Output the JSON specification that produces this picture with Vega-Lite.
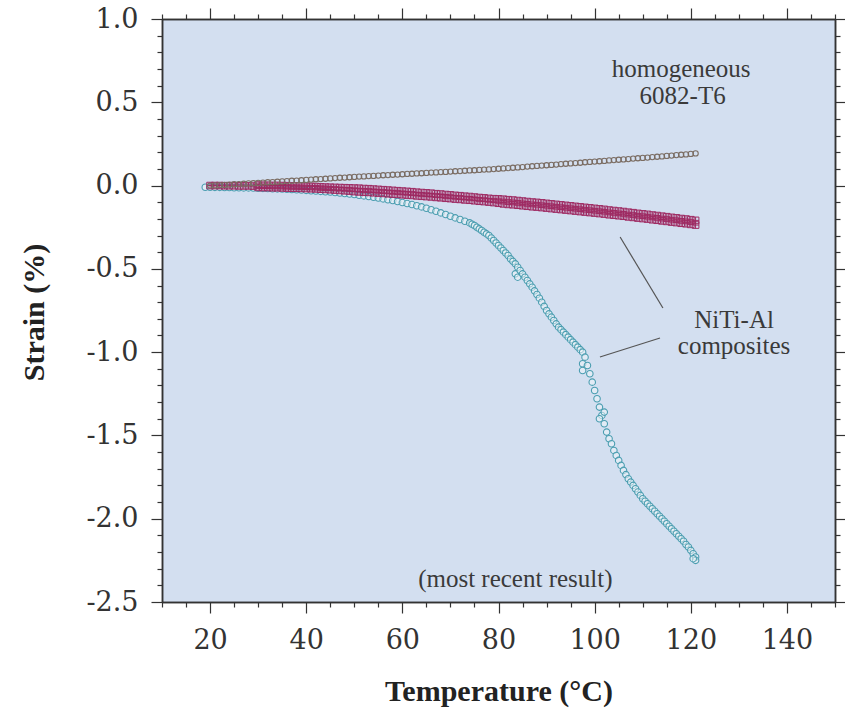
{
"$schema":"https://vega.github.io/schema/vega-lite/v6.json",
"width":673,"height":583,
"autosize":{"type":"none"},
"padding":{"left":162,"top":19,"right":10,"bottom":106},
"background":"#ffffff",
"view":{"fill":"#d3dff0","stroke":null},
"config":{"axis":{"grid":false,"domainColor":"#333333","domainWidth":1.5,"tickColor":"#333333","tickWidth":1.2,"labelFont":"DejaVu Serif","labelFontSize":27,"labelColor":"#333333","titleFont":"Liberation Serif","titleFontSize":30,"titleFontWeight":"bold","titleColor":"#222222","labelFlush":false}},
"datasets":{
"frame":[{"t":10,"v":-2.5},{"t":150,"v":1.0}],
"notes":[{"x":118,"y":0.70,"label":"homogeneous"},{"x":118.3,"y":0.535,"label":"6082-T6"},{"x":129,"y":-0.807,"label":"NiTi-Al"},{"x":129,"y":-0.963,"label":"composites"},{"x":83.5,"y":-2.36,"label":"(most recent result)"}],
"leaders":[{"x":105.3,"y":-0.309,"x2":114.2,"y2":-0.735},{"x":101.1,"y":-1.029,"x2":113.6,"y2":-0.915}],
"pts":[
{"s":"g","t":20,"v":0.000},{"s":"g","t":21,"v":0.001},{"s":"g","t":22,"v":0.003},{"s":"g","t":23,"v":0.004},{"s":"g","t":24,"v":0.006},{"s":"g","t":25,"v":0.008},{"s":"g","t":26,"v":0.009},{"s":"g","t":27,"v":0.011},{"s":"g","t":28,"v":0.013},{"s":"g","t":29,"v":0.014},
{"s":"g","t":30,"v":0.016},{"s":"g","t":31,"v":0.018},{"s":"g","t":32,"v":0.020},{"s":"g","t":33,"v":0.021},{"s":"g","t":34,"v":0.023},{"s":"g","t":35,"v":0.025},{"s":"g","t":36,"v":0.027},{"s":"g","t":37,"v":0.029},{"s":"g","t":38,"v":0.030},{"s":"g","t":39,"v":0.032},
{"s":"g","t":40,"v":0.034},{"s":"g","t":41,"v":0.036},{"s":"g","t":42,"v":0.038},{"s":"g","t":43,"v":0.039},{"s":"g","t":44,"v":0.041},{"s":"g","t":45,"v":0.043},{"s":"g","t":46,"v":0.045},{"s":"g","t":47,"v":0.047},{"s":"g","t":48,"v":0.048},{"s":"g","t":49,"v":0.050},
{"s":"g","t":50,"v":0.052},{"s":"g","t":51,"v":0.054},{"s":"g","t":52,"v":0.055},{"s":"g","t":53,"v":0.057},{"s":"g","t":54,"v":0.058},{"s":"g","t":55,"v":0.060},{"s":"g","t":56,"v":0.062},{"s":"g","t":57,"v":0.063},{"s":"g","t":58,"v":0.065},{"s":"g","t":59,"v":0.066},
{"s":"g","t":60,"v":0.068},{"s":"g","t":61,"v":0.070},{"s":"g","t":62,"v":0.071},{"s":"g","t":63,"v":0.073},{"s":"g","t":64,"v":0.074},{"s":"g","t":65,"v":0.076},{"s":"g","t":66,"v":0.078},{"s":"g","t":67,"v":0.079},{"s":"g","t":68,"v":0.081},{"s":"g","t":69,"v":0.082},
{"s":"g","t":70,"v":0.084},{"s":"g","t":71,"v":0.086},{"s":"g","t":72,"v":0.087},{"s":"g","t":73,"v":0.089},{"s":"g","t":74,"v":0.091},{"s":"g","t":75,"v":0.092},{"s":"g","t":76,"v":0.094},{"s":"g","t":77,"v":0.096},{"s":"g","t":78,"v":0.097},{"s":"g","t":79,"v":0.099},
{"s":"g","t":80,"v":0.101},{"s":"g","t":81,"v":0.103},{"s":"g","t":82,"v":0.105},{"s":"g","t":83,"v":0.107},{"s":"g","t":84,"v":0.109},{"s":"g","t":85,"v":0.111},{"s":"g","t":86,"v":0.114},{"s":"g","t":87,"v":0.116},{"s":"g","t":88,"v":0.118},{"s":"g","t":89,"v":0.120},
{"s":"g","t":90,"v":0.122},{"s":"g","t":91,"v":0.124},{"s":"g","t":92,"v":0.126},{"s":"g","t":93,"v":0.129},{"s":"g","t":94,"v":0.131},{"s":"g","t":95,"v":0.133},{"s":"g","t":96,"v":0.135},{"s":"g","t":97,"v":0.137},{"s":"g","t":98,"v":0.140},{"s":"g","t":99,"v":0.142},
{"s":"g","t":100,"v":0.144},{"s":"g","t":101,"v":0.146},{"s":"g","t":102,"v":0.148},{"s":"g","t":103,"v":0.151},{"s":"g","t":104,"v":0.153},{"s":"g","t":105,"v":0.155},{"s":"g","t":106,"v":0.157},{"s":"g","t":107,"v":0.159},{"s":"g","t":108,"v":0.162},{"s":"g","t":109,"v":0.164},
{"s":"g","t":110,"v":0.166},{"s":"g","t":111,"v":0.168},{"s":"g","t":112,"v":0.171},{"s":"g","t":113,"v":0.173},{"s":"g","t":114,"v":0.175},{"s":"g","t":115,"v":0.178},{"s":"g","t":116,"v":0.180},{"s":"g","t":117,"v":0.183},{"s":"g","t":118,"v":0.185},{"s":"g","t":119,"v":0.187},
{"s":"g","t":120,"v":0.190},{"s":"g","t":121,"v":0.193},
{"s":"m","t":20,"v":0.000},{"s":"m","t":21,"v":0.000},{"s":"m","t":22,"v":0.000},{"s":"m","t":23,"v":-0.001},{"s":"m","t":24,"v":-0.001},{"s":"m","t":25,"v":-0.001},{"s":"m","t":26,"v":-0.002},{"s":"m","t":27,"v":-0.002},{"s":"m","t":28,"v":-0.002},{"s":"m","t":29,"v":-0.003},
{"s":"m","t":30,"v":0.003},{"s":"m","t":31,"v":0.002},{"s":"m","t":32,"v":0.002},{"s":"m","t":33,"v":0.001},{"s":"m","t":34,"v":0.001},{"s":"m","t":35,"v":0.000},{"s":"m","t":36,"v":-0.001},{"s":"m","t":37,"v":-0.002},{"s":"m","t":38,"v":-0.002},{"s":"m","t":39,"v":-0.003},
{"s":"m","t":40,"v":-0.004},{"s":"m","t":41,"v":-0.005},{"s":"m","t":42,"v":-0.006},{"s":"m","t":43,"v":-0.008},{"s":"m","t":44,"v":-0.009},{"s":"m","t":45,"v":-0.010},{"s":"m","t":46,"v":-0.011},{"s":"m","t":47,"v":-0.012},{"s":"m","t":48,"v":-0.013},{"s":"m","t":49,"v":-0.014},
{"s":"m","t":50,"v":-0.015},{"s":"m","t":51,"v":-0.016},{"s":"m","t":52,"v":-0.018},{"s":"m","t":53,"v":-0.019},{"s":"m","t":54,"v":-0.021},{"s":"m","t":55,"v":-0.023},{"s":"m","t":56,"v":-0.025},{"s":"m","t":57,"v":-0.027},{"s":"m","t":58,"v":-0.029},{"s":"m","t":59,"v":-0.031},
{"s":"m","t":60,"v":-0.033},{"s":"m","t":61,"v":-0.035},{"s":"m","t":62,"v":-0.037},{"s":"m","t":63,"v":-0.040},{"s":"m","t":64,"v":-0.042},{"s":"m","t":65,"v":-0.044},{"s":"m","t":66,"v":-0.046},{"s":"m","t":67,"v":-0.049},{"s":"m","t":68,"v":-0.051},{"s":"m","t":69,"v":-0.054},
{"s":"m","t":70,"v":-0.056},{"s":"m","t":71,"v":-0.059},{"s":"m","t":72,"v":-0.061},{"s":"m","t":73,"v":-0.064},{"s":"m","t":74,"v":-0.066},{"s":"m","t":75,"v":-0.069},{"s":"m","t":76,"v":-0.072},{"s":"m","t":77,"v":-0.074},{"s":"m","t":78,"v":-0.077},{"s":"m","t":79,"v":-0.079},
{"s":"m","t":80,"v":-0.080},{"s":"m","t":81,"v":-0.082},{"s":"m","t":82,"v":-0.085},{"s":"m","t":83,"v":-0.087},{"s":"m","t":84,"v":-0.090},{"s":"m","t":85,"v":-0.093},{"s":"m","t":86,"v":-0.096},{"s":"m","t":87,"v":-0.099},{"s":"m","t":88,"v":-0.101},{"s":"m","t":89,"v":-0.104},
{"s":"m","t":90,"v":-0.107},{"s":"m","t":91,"v":-0.110},{"s":"m","t":92,"v":-0.113},{"s":"m","t":93,"v":-0.116},{"s":"m","t":94,"v":-0.119},{"s":"m","t":95,"v":-0.122},{"s":"m","t":96,"v":-0.125},{"s":"m","t":97,"v":-0.128},{"s":"m","t":98,"v":-0.131},{"s":"m","t":99,"v":-0.134},
{"s":"m","t":100,"v":-0.137},{"s":"m","t":101,"v":-0.140},{"s":"m","t":102,"v":-0.143},{"s":"m","t":103,"v":-0.147},{"s":"m","t":104,"v":-0.150},{"s":"m","t":105,"v":-0.153},{"s":"m","t":106,"v":-0.156},{"s":"m","t":107,"v":-0.160},{"s":"m","t":108,"v":-0.163},{"s":"m","t":109,"v":-0.167},
{"s":"m","t":110,"v":-0.170},{"s":"m","t":111,"v":-0.173},{"s":"m","t":112,"v":-0.177},{"s":"m","t":113,"v":-0.180},{"s":"m","t":114,"v":-0.184},{"s":"m","t":115,"v":-0.187},{"s":"m","t":116,"v":-0.191},{"s":"m","t":117,"v":-0.194},{"s":"m","t":118,"v":-0.198},{"s":"m","t":119,"v":-0.201},
{"s":"m","t":120,"v":-0.205},{"s":"m","t":121,"v":-0.209},
{"s":"m","t":30,"v":-0.011},{"s":"m","t":31,"v":-0.012},{"s":"m","t":32,"v":-0.012},{"s":"m","t":33,"v":-0.013},{"s":"m","t":34,"v":-0.013},{"s":"m","t":35,"v":-0.014},{"s":"m","t":36,"v":-0.015},{"s":"m","t":37,"v":-0.016},{"s":"m","t":38,"v":-0.016},{"s":"m","t":39,"v":-0.017},
{"s":"m","t":40,"v":-0.018},{"s":"m","t":41,"v":-0.019},{"s":"m","t":42,"v":-0.020},{"s":"m","t":43,"v":-0.022},{"s":"m","t":44,"v":-0.023},{"s":"m","t":45,"v":-0.025},{"s":"m","t":46,"v":-0.027},{"s":"m","t":47,"v":-0.029},{"s":"m","t":48,"v":-0.031},{"s":"m","t":49,"v":-0.033},
{"s":"m","t":50,"v":-0.036},{"s":"m","t":51,"v":-0.038},{"s":"m","t":52,"v":-0.040},{"s":"m","t":53,"v":-0.041},{"s":"m","t":54,"v":-0.043},{"s":"m","t":55,"v":-0.045},{"s":"m","t":56,"v":-0.047},{"s":"m","t":57,"v":-0.049},{"s":"m","t":58,"v":-0.051},{"s":"m","t":59,"v":-0.053},
{"s":"m","t":60,"v":-0.055},{"s":"m","t":61,"v":-0.057},{"s":"m","t":62,"v":-0.059},{"s":"m","t":63,"v":-0.062},{"s":"m","t":64,"v":-0.064},{"s":"m","t":65,"v":-0.066},{"s":"m","t":66,"v":-0.068},{"s":"m","t":67,"v":-0.071},{"s":"m","t":68,"v":-0.073},{"s":"m","t":69,"v":-0.076},
{"s":"m","t":70,"v":-0.078},{"s":"m","t":71,"v":-0.081},{"s":"m","t":72,"v":-0.083},{"s":"m","t":73,"v":-0.086},{"s":"m","t":74,"v":-0.088},{"s":"m","t":75,"v":-0.091},{"s":"m","t":76,"v":-0.094},{"s":"m","t":77,"v":-0.096},{"s":"m","t":78,"v":-0.099},{"s":"m","t":79,"v":-0.102},
{"s":"m","t":80,"v":-0.106},{"s":"m","t":81,"v":-0.110},{"s":"m","t":82,"v":-0.113},{"s":"m","t":83,"v":-0.115},{"s":"m","t":84,"v":-0.118},{"s":"m","t":85,"v":-0.121},{"s":"m","t":86,"v":-0.124},{"s":"m","t":87,"v":-0.127},{"s":"m","t":88,"v":-0.129},{"s":"m","t":89,"v":-0.132},
{"s":"m","t":90,"v":-0.135},{"s":"m","t":91,"v":-0.138},{"s":"m","t":92,"v":-0.141},{"s":"m","t":93,"v":-0.144},{"s":"m","t":94,"v":-0.147},{"s":"m","t":95,"v":-0.150},{"s":"m","t":96,"v":-0.153},{"s":"m","t":97,"v":-0.156},{"s":"m","t":98,"v":-0.159},{"s":"m","t":99,"v":-0.162},
{"s":"m","t":100,"v":-0.165},{"s":"m","t":101,"v":-0.168},{"s":"m","t":102,"v":-0.171},{"s":"m","t":103,"v":-0.175},{"s":"m","t":104,"v":-0.178},{"s":"m","t":105,"v":-0.181},{"s":"m","t":106,"v":-0.184},{"s":"m","t":107,"v":-0.188},{"s":"m","t":108,"v":-0.191},{"s":"m","t":109,"v":-0.195},
{"s":"m","t":110,"v":-0.198},{"s":"m","t":111,"v":-0.201},{"s":"m","t":112,"v":-0.205},{"s":"m","t":113,"v":-0.208},{"s":"m","t":114,"v":-0.212},{"s":"m","t":115,"v":-0.215},{"s":"m","t":116,"v":-0.219},{"s":"m","t":117,"v":-0.222},{"s":"m","t":118,"v":-0.226},{"s":"m","t":119,"v":-0.229},
{"s":"m","t":120,"v":-0.233},{"s":"m","t":121,"v":-0.237},
{"s":"c","t":19,"v":-0.010},{"s":"c","t":20,"v":-0.010},{"s":"c","t":21,"v":-0.011},{"s":"c","t":22,"v":-0.011},{"s":"c","t":23,"v":-0.012},{"s":"c","t":24,"v":-0.012},{"s":"c","t":25,"v":-0.013},{"s":"c","t":26,"v":-0.013},{"s":"c","t":27,"v":-0.014},{"s":"c","t":28,"v":-0.014},{"s":"c","t":29,"v":-0.015},
{"s":"c","t":30,"v":-0.016},{"s":"c","t":31,"v":-0.017},{"s":"c","t":32,"v":-0.018},{"s":"c","t":33,"v":-0.019},{"s":"c","t":34,"v":-0.020},{"s":"c","t":35,"v":-0.021},{"s":"c","t":36,"v":-0.022},{"s":"c","t":37,"v":-0.024},{"s":"c","t":38,"v":-0.025},{"s":"c","t":39,"v":-0.027},
{"s":"c","t":40,"v":-0.029},{"s":"c","t":41,"v":-0.031},{"s":"c","t":42,"v":-0.033},{"s":"c","t":43,"v":-0.035},{"s":"c","t":44,"v":-0.037},{"s":"c","t":45,"v":-0.039},{"s":"c","t":46,"v":-0.042},{"s":"c","t":47,"v":-0.045},{"s":"c","t":48,"v":-0.048},{"s":"c","t":49,"v":-0.051},
{"s":"c","t":50,"v":-0.054},{"s":"c","t":51,"v":-0.058},{"s":"c","t":52,"v":-0.062},{"s":"c","t":53,"v":-0.066},{"s":"c","t":54,"v":-0.070},{"s":"c","t":55,"v":-0.075},{"s":"c","t":56,"v":-0.080},{"s":"c","t":57,"v":-0.085},{"s":"c","t":58,"v":-0.090},{"s":"c","t":59,"v":-0.096},
{"s":"c","t":60,"v":-0.102},{"s":"c","t":61,"v":-0.108},{"s":"c","t":62,"v":-0.114},{"s":"c","t":63,"v":-0.121},{"s":"c","t":64,"v":-0.128},{"s":"c","t":65,"v":-0.136},{"s":"c","t":66,"v":-0.145},{"s":"c","t":67,"v":-0.154},{"s":"c","t":68,"v":-0.164},{"s":"c","t":69,"v":-0.174},
{"s":"c","t":70,"v":-0.184},{"s":"c","t":71,"v":-0.194},{"s":"c","t":72,"v":-0.204},{"s":"c","t":73,"v":-0.214},
{"s":"c","t":74,"v":-0.224},{"s":"c","t":74.5,"v":-0.232},{"s":"c","t":75,"v":-0.240},{"s":"c","t":75.5,"v":-0.250},{"s":"c","t":76,"v":-0.260},{"s":"c","t":76.5,"v":-0.270},{"s":"c","t":77,"v":-0.280},{"s":"c","t":77.5,"v":-0.290},{"s":"c","t":78,"v":-0.300},{"s":"c","t":78.5,"v":-0.315},
{"s":"c","t":79,"v":-0.330},{"s":"c","t":79.5,"v":-0.345},{"s":"c","t":80,"v":-0.360},{"s":"c","t":80.5,"v":-0.375},{"s":"c","t":81,"v":-0.390},{"s":"c","t":81.5,"v":-0.405},{"s":"c","t":82,"v":-0.420},{"s":"c","t":82.5,"v":-0.440},{"s":"c","t":83,"v":-0.455},{"s":"c","t":83.5,"v":-0.470},
{"s":"c","t":83.5,"v":-0.530},{"s":"c","t":84,"v":-0.550},{"s":"c","t":84,"v":-0.490},{"s":"c","t":84.5,"v":-0.510},{"s":"c","t":85,"v":-0.530},{"s":"c","t":85.5,"v":-0.550},{"s":"c","t":86,"v":-0.570},{"s":"c","t":86.5,"v":-0.590},{"s":"c","t":87,"v":-0.610},{"s":"c","t":87.5,"v":-0.632},
{"s":"c","t":88,"v":-0.654},{"s":"c","t":88.5,"v":-0.676},{"s":"c","t":89,"v":-0.700},{"s":"c","t":89.5,"v":-0.725},{"s":"c","t":90,"v":-0.750},{"s":"c","t":90.5,"v":-0.770},{"s":"c","t":91,"v":-0.790},{"s":"c","t":91.5,"v":-0.810},{"s":"c","t":92,"v":-0.830},{"s":"c","t":92.5,"v":-0.850},
{"s":"c","t":93,"v":-0.865},{"s":"c","t":93.5,"v":-0.880},{"s":"c","t":94,"v":-0.895},{"s":"c","t":94.5,"v":-0.910},{"s":"c","t":95,"v":-0.925},{"s":"c","t":95.5,"v":-0.940},{"s":"c","t":96,"v":-0.955},{"s":"c","t":96.5,"v":-0.970},{"s":"c","t":97,"v":-0.985},{"s":"c","t":97.5,"v":-1.000},
{"s":"c","t":97.5,"v":-1.070},{"s":"c","t":97.5,"v":-1.110},{"s":"c","t":98,"v":-1.030},{"s":"c","t":98.5,"v":-1.080},{"s":"c","t":99,"v":-1.130},{"s":"c","t":99.5,"v":-1.180},{"s":"c","t":100,"v":-1.230},{"s":"c","t":100.5,"v":-1.280},{"s":"c","t":101,"v":-1.330},{"s":"c","t":101.5,"v":-1.380},
{"s":"c","t":101,"v":-1.400},{"s":"c","t":102,"v":-1.360},{"s":"c","t":102,"v":-1.430},{"s":"c","t":102.5,"v":-1.480},{"s":"c","t":103,"v":-1.520},{"s":"c","t":103.5,"v":-1.550},{"s":"c","t":104,"v":-1.590},{"s":"c","t":104.5,"v":-1.620},{"s":"c","t":105,"v":-1.650},{"s":"c","t":105.5,"v":-1.680},
{"s":"c","t":106,"v":-1.710},{"s":"c","t":106.5,"v":-1.735},{"s":"c","t":107,"v":-1.760},{"s":"c","t":107.5,"v":-1.780},{"s":"c","t":108,"v":-1.800},{"s":"c","t":108.5,"v":-1.820},{"s":"c","t":109,"v":-1.840},{"s":"c","t":109.5,"v":-1.860},{"s":"c","t":110,"v":-1.880},{"s":"c","t":110.5,"v":-1.895},
{"s":"c","t":111,"v":-1.910},{"s":"c","t":111.5,"v":-1.925},{"s":"c","t":112,"v":-1.940},{"s":"c","t":112.5,"v":-1.955},{"s":"c","t":113,"v":-1.970},{"s":"c","t":113.5,"v":-1.985},{"s":"c","t":114,"v":-2.000},{"s":"c","t":114.5,"v":-2.015},{"s":"c","t":115,"v":-2.030},{"s":"c","t":115.5,"v":-2.045},
{"s":"c","t":116,"v":-2.060},{"s":"c","t":116.5,"v":-2.075},{"s":"c","t":117,"v":-2.090},{"s":"c","t":117.5,"v":-2.105},{"s":"c","t":118,"v":-2.120},{"s":"c","t":118.5,"v":-2.135},{"s":"c","t":119,"v":-2.155},{"s":"c","t":119.5,"v":-2.170},{"s":"c","t":120,"v":-2.190},{"s":"c","t":120.5,"v":-2.210},
{"s":"c","t":121,"v":-2.230},{"s":"c","t":121,"v":-2.250},{"s":"c","t":120.5,"v":-2.240}
]},
"layer":[
{"data":{"name":"pts"},"transform":[{"filter":"datum.s === 'c'"}],
 "mark":{"type":"point","shape":"circle","size":42,"filled":true,"fill":"#f2f8fa","fillOpacity":0.5,"stroke":"#4a9db0","strokeWidth":1.1,"opacity":1},
 "encoding":{
  "x":{"field":"t","type":"quantitative","scale":{"domain":[10,150],"nice":false,"zero":false},
   "axis":{"orient":"bottom","values":[20,40,60,80,100,120,140],"tickSize":11,"labelPadding":14,"title":"Temperature (°C)","titleY":98,"titleBaseline":"alphabetic"}},
  "y":{"field":"v","type":"quantitative","scale":{"domain":[-2.5,1],"nice":false,"zero":false},
   "axis":{"orient":"left","values":[-2.5,-2,-1.5,-1,-0.5,0,0.5,1],"tickSize":11,"labelPadding":13,"labelExpr":"replace(format(datum.value,'.1f'),'\u2212','-')","title":"Strain (%)","titleX":-119,"titleY":293,"titleAngle":-90,"titleBaseline":"alphabetic","titleAlign":"center"}}
 }},
{"data":{"name":"pts"},"transform":[{"filter":"datum.s === 'm'"}],
 "mark":{"type":"point","shape":"M-1,-1H1V1H-1ZM0,-1V1M-1,0H1","size":44,"filled":false,"stroke":"#9e2a62","strokeWidth":1,"opacity":1},
 "encoding":{"x":{"field":"t","type":"quantitative","axis":null},"y":{"field":"v","type":"quantitative","axis":null}}},
{"data":{"name":"pts"},"transform":[{"filter":"datum.s === 'g'"}],
 "mark":{"type":"point","shape":"circle","size":28,"filled":false,"stroke":"#7a6c62","strokeWidth":1.1,"opacity":1},
 "encoding":{"x":{"field":"t","type":"quantitative","axis":null},"y":{"field":"v","type":"quantitative","axis":null}}},
{"data":{"name":"leaders"},
 "mark":{"type":"rule","color":"#555555","strokeWidth":1.2},
 "encoding":{"x":{"field":"x","type":"quantitative","axis":null},"y":{"field":"y","type":"quantitative","axis":null},"x2":{"field":"x2"},"y2":{"field":"y2"}}},
{"data":{"name":"notes"},
 "mark":{"type":"text","font":"Liberation Serif","fontSize":25,"color":"#3a3a3a","align":"center","baseline":"middle"},
 "encoding":{"x":{"field":"x","type":"quantitative","axis":null},"y":{"field":"y","type":"quantitative","axis":null},"text":{"field":"label"}}},
{"data":{"name":"frame"},
 "mark":{"type":"point","opacity":0},
 "encoding":{
  "x":{"field":"t","type":"quantitative","axis":{"orient":"bottom","values":[10,15,25,30,35,45,50,55,65,70,75,85,90,95,105,110,115,125,130,135,145,150],"tickSize":5,"labels":false,"title":null}},
  "y":{"field":"v","type":"quantitative","axis":{"orient":"left","values":[-2.4,-2.3,-2.2,-2.1,-1.9,-1.8,-1.7,-1.6,-1.4,-1.3,-1.2,-1.1,-0.9,-0.8,-0.7,-0.6,-0.4,-0.3,-0.2,-0.1,0.1,0.2,0.3,0.4,0.6,0.7,0.8,0.9],"tickSize":5,"labels":false,"title":null}}}},
{"data":{"name":"frame"},
 "mark":{"type":"point","opacity":0},
 "encoding":{
  "x":{"field":"t","type":"quantitative","axis":{"orient":"top","values":[20,40,60,80,100,120,140],"tickSize":11,"labels":false,"title":null}},
  "y":{"field":"v","type":"quantitative","axis":{"orient":"right","values":[-2.5,-2,-1.5,-1,-0.5,0,0.5,1],"tickSize":11,"labels":false,"title":null}}}},
{"data":{"name":"frame"},
 "mark":{"type":"point","opacity":0},
 "encoding":{
  "x":{"field":"t","type":"quantitative","axis":{"orient":"top","values":[10,15,25,30,35,45,50,55,65,70,75,85,90,95,105,110,115,125,130,135,145,150],"tickSize":5,"labels":false,"title":null}},
  "y":{"field":"v","type":"quantitative","axis":{"orient":"right","values":[-2.4,-2.3,-2.2,-2.1,-1.9,-1.8,-1.7,-1.6,-1.4,-1.3,-1.2,-1.1,-0.9,-0.8,-0.7,-0.6,-0.4,-0.3,-0.2,-0.1,0.1,0.2,0.3,0.4,0.6,0.7,0.8,0.9],"tickSize":5,"labels":false,"title":null}}}}
],
"resolve":{"axis":{"x":"independent","y":"independent"}}
}
